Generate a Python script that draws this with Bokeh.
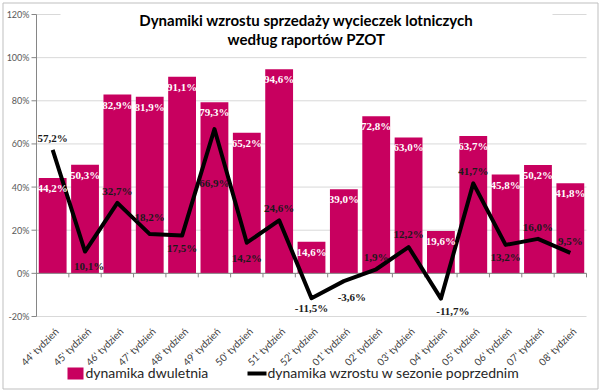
import math
from bokeh.plotting import figure
from bokeh.models import ColumnDataSource, LabelSet, Label, Range1d
from bokeh.core.properties import value
from bokeh.embed import file_html
from bokeh.resources import INLINE

# ---------------- data ----------------
weeks = ["44' tydzień", "45' tydzień", "46' tydzień", "47' tydzień", "48' tydzień",
         "49' tydzień", "50' tydzień", "51' tydzień", "52' tydzień", "01' tydzień",
         "02' tydzień", "03' tydzień", "04' tydzień", "05' tydzień", "06' tydzień",
         "07' tydzień", "08' tydzień"]
dynamika_dwuletnia = [44.2, 50.3, 82.9, 81.9, 91.1, 79.3, 65.2, 94.6, 14.6, 39.0,
                      72.8, 63.0, 19.6, 63.7, 45.8, 50.2, 41.8]
dynamika_sezon = [57.2, 10.1, 32.7, 18.2, 17.5, 66.9, 14.2, 24.6, -11.5, -3.6,
                  1.9, 12.2, -11.7, 41.7, 13.2, 16.0, 9.5]
y_ticks = [-20, 0, 20, 40, 60, 80, 100, 120]
title_lines = ["Dynamiki wzrostu sprzedaży wycieczek lotniczych", "według raportów PZOT"]
legend_labels = ["dynamika dwuletnia", "dynamika wzrostu w sezonie poprzednim"]

# label nudges in pixels (positive = up / right)
line_label_dx = [0, 4, 0, 0, 0, 0, 0, 0, 0, 8, 0, 0, 12, 0, 0, 0, 0]
line_label_dy = [12, -14, 12, 17, -12, -54, -15, 12, -10, -16, 12, 13, -12, 12, -12, 12, 12]

FONT = "Lato"
BAR_COLOR = "#C8005F"
AXIS_COLOR = "#868686"
GRID_COLOR = "#D9D9D9"

# ---------------- layout (pixels) ----------------
W, H = 600, 392
PL, PT, PW, PH = 36, 14, 550, 302          # plot area inside the canvas
n = len(weeks)
sx = PW / n
sy = PH / (y_ticks[-1] - y_ticks[0])


def X(px):
    return (px - PL) / sx


def Y(py):
    return y_ticks[-1] - (py - PT) / sy


def pct(v):
    return f"{v:.1f}%".replace(".", ",")


xs = [i + 0.5 for i in range(n)]
bounds = list(range(n + 1))

src = ColumnDataSource(dict(
    x=xs, bar=dynamika_dwuletnia, line=dynamika_sezon,
    bar_txt=[pct(v) for v in dynamika_dwuletnia],
    line_txt=[pct(v) for v in dynamika_sezon],
    ldx=line_label_dx, ldy=line_label_dy,
))

p = figure(width=W, height=H, x_range=Range1d(X(0), X(W)), y_range=Range1d(Y(H), Y(0)),
           x_axis_location=None, y_axis_location=None,
           output_backend="svg", toolbar_location=None, min_border=0,
           outline_line_color=None, background_fill_color="white", border_fill_color="white")
p.grid.visible = False

# outer chart border
p.quad(left=X(2.5), right=X(597.5), top=Y(2.5), bottom=Y(388.5),
       fill_color=None, line_color="#BFBFBF", line_width=1)

# horizontal gridlines
p.segment(x0=[0] * len(y_ticks), x1=[n] * len(y_ticks), y0=y_ticks, y1=y_ticks,
          line_color=GRID_COLOR, line_width=1)

# title background box (hides gridlines under the title, as in the original)
p.quad(left=X(60), right=X(552), top=Y(4), bottom=Y(50), fill_color="white",
       line_color=None)

# value axis
p.segment(x0=[0], x1=[0], y0=[y_ticks[0]], y1=[y_ticks[-1]], line_color=AXIS_COLOR)
p.segment(x0=[X(PL - 5)] * len(y_ticks), x1=[0] * len(y_ticks), y0=y_ticks, y1=y_ticks,
          line_color=AXIS_COLOR)
p.text(x=[X(29)] * len(y_ticks), y=y_ticks, text=[f"{t}%" for t in y_ticks],
       text_align="right", text_baseline="middle", text_font=value(FONT),
       text_font_size=value("9px"), text_color="#595959")

# bars
bars = p.vbar(x="x", top="bar", width=0.86, source=src, fill_color=BAR_COLOR,
              line_color=None)

# category axis at 0 with tick marks between categories
p.segment(x0=[0], x1=[n], y0=[0], y1=[0], line_color=AXIS_COLOR)
p.segment(x0=bounds, y0=[0] * len(bounds), x1=bounds, y1=[-4 / sy] * len(bounds),
          line_color=AXIS_COLOR)

# category labels (low position, rotated)
p.text(x=[c + 4 / sx for c in xs], y=[Y(329)] * n, text=weeks, angle=math.pi / 4,
       text_align="right", text_baseline="middle", text_font=value(FONT),
       text_font_size=value("10px"), text_color="#404040")

# line
line = p.line(x="x", y="line", source=src, line_color="black", line_width=4,
              line_join="round")

# data labels
p.add_layout(LabelSet(x="x", y="bar", text="bar_txt", source=src, y_offset=-10,
                      text_align="center", text_baseline="middle",
                      text_font=FONT, text_font_size="11px", text_font_style="bold",
                      text_color="white"))
p.add_layout(LabelSet(x="x", y="line", text="line_txt", source=src,
                      x_offset="ldx", y_offset="ldy",
                      text_align="center", text_baseline="middle",
                      text_font=FONT, text_font_size="11px", text_font_style="bold",
                      text_color="#1a1a1a"))

# title
for txt, py in zip(title_lines, [19, 38]):
    p.add_layout(Label(x=X(306), y=Y(py), text=txt, text_align="center",
                       text_baseline="middle", text_font=FONT,
                       text_font_size="15px", text_font_style="bold",
                       text_color="#000000"))

# legend
p.quad(left=X(67), right=X(83), top=Y(367), bottom=Y(379), fill_color=BAR_COLOR,
       line_color=None)
p.line(x=[X(247), X(266)], y=[Y(373), Y(373)], line_color="black", line_width=4)
p.text(x=[X(85), X(267)], y=[Y(372), Y(372)], text=legend_labels,
       text_align="left", text_baseline="middle", text_font=value(FONT),
       text_font_size=value("14px"), text_color="#262626")

open("out.html", "w").write(file_html(p, INLINE))
